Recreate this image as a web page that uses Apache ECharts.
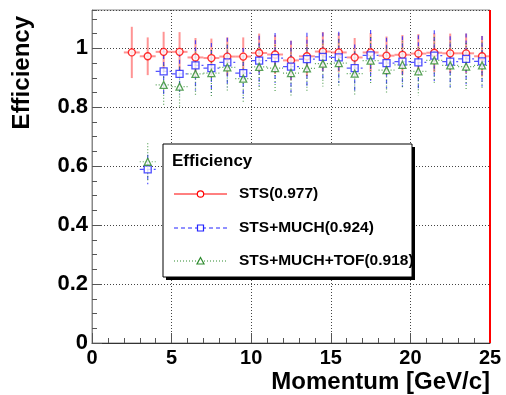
<!DOCTYPE html>
<html>
<head>
<meta charset="utf-8">
<script src="https://cdn.jsdelivr.net/npm/echarts@6/dist/echarts.min.js"></script>
<style>
  html, body { margin: 0; padding: 0; background: #fff; }
  #chart { width: 506px; height: 395px; }
</style>
</head>
<body>
<div id="chart"></div>
<script>
// Bin centres of the momentum histogram [GeV/c]
const stsMomentum = [2.5, 3.5, 4.5, 5.5, 6.5, 7.5, 8.5, 9.5, 10.5, 11.5, 12.5, 13.5,
  14.5, 15.5, 16.5, 17.5, 18.5, 19.5, 20.5, 21.5, 22.5, 23.5, 24.5];
const muchMomentum = [3.5, 4.5, 5.5, 6.5, 7.5, 8.5, 9.5, 10.5, 11.5, 12.5, 13.5,
  14.5, 15.5, 16.5, 17.5, 18.5, 19.5, 20.5, 21.5, 22.5, 23.5, 24.5];

// STS efficiency and its error
const stsEff = [0.986, 0.973, 0.988, 0.988, 0.969, 0.967, 0.972, 0.972, 0.984, 0.979, 0.959, 0.973,
  0.989, 0.986, 0.969, 0.986, 0.975, 0.978, 0.982, 0.985, 0.983, 0.983, 0.973];
const stsErr = [0.087, 0.064, 0.068, 0.067, 0.066, 0.066, 0.065, 0.065, 0.066, 0.066, 0.067, 0.068,
  0.066, 0.066, 0.066, 0.066, 0.065, 0.067, 0.066, 0.066, 0.067, 0.067, 0.069];

// STS+MUCH efficiency and its error
const muchEff = [0.589, 0.922, 0.913, 0.942, 0.933, 0.952, 0.916, 0.958, 0.967, 0.938, 0.963,
  0.971, 0.969, 0.933, 0.976, 0.950, 0.955, 0.952, 0.975, 0.955, 0.964, 0.956];
const muchErr = [0.050, 0.079, 0.072, 0.085, 0.085, 0.084, 0.085, 0.085, 0.085, 0.088, 0.090,
  0.083, 0.087, 0.080, 0.086, 0.086, 0.086, 0.092, 0.086, 0.086, 0.086, 0.086];

// STS+MUCH+TOF efficiency and its error
const tofEff = [0.615, 0.876, 0.870, 0.913, 0.916, 0.935, 0.897, 0.937, 0.933, 0.916, 0.932,
  0.948, 0.950, 0.914, 0.958, 0.926, 0.944, 0.922, 0.959, 0.942, 0.938, 0.942];
const tofErr = [0.063, 0.068, 0.068, 0.075, 0.078, 0.078, 0.078, 0.078, 0.078, 0.080, 0.080,
  0.078, 0.080, 0.075, 0.080, 0.080, 0.080, 0.082, 0.080, 0.080, 0.080, 0.080];

// Legend entries
const legendTitle = 'Efficiency';
const legendLabels = ['STS(0.977)', 'STS+MUCH(0.924)', 'STS+MUCH+TOF(0.918)'];

const xTitle = 'Momentum [GeV/c]';
const yTitle = 'Efficiency';

const RED = '#ff0000';
const BLUE = '#2222ff';
const GREEN = '#2e8b2e';
const FONT = '"Liberation Sans", Arial, Helvetica, sans-serif';

function rows(xs, ys, es) {
  return xs.map((x, i) => [x, ys[i], es[i]]);
}

// Vertical error bar plus a horizontal bar spanning the bin width
function errorBars(color, dash, width) {
  return function (params, api) {
    const x = api.value(0), y = api.value(1), e = api.value(2);
    const c = api.coord([x, y]);
    const hi = api.coord([x, y + e]);
    const lo = api.coord([x, y - e]);
    const l = api.coord([x - 0.5, y]);
    const r = api.coord([x + 0.5, y]);
    const style = { stroke: color, lineWidth: width, lineDash: dash, fill: null };
    return {
      type: 'group',
      children: [
        { type: 'line', shape: { x1: c[0], y1: hi[1], x2: c[0], y2: lo[1] }, style: style },
        { type: 'line', shape: { x1: l[0], y1: c[1], x2: r[0], y2: c[1] }, style: style }
      ]
    };
  };
}

function markerSeries(xs, ys, symbol, size, color) {
  return {
    type: 'scatter',
    data: xs.map((x, i) => [x, ys[i]]),
    symbol: symbol,
    symbolSize: size,
    itemStyle: { color: '#fff', borderColor: color, borderWidth: 1.3 },
    z: 5,
    silent: true
  };
}

function errSeries(xs, ys, es, color, dash, width) {
  return {
    type: 'custom',
    data: rows(xs, ys, es),
    renderItem: errorBars(color, dash, width),
    encode: { x: 0, y: 1 },
    z: 3,
    silent: true
  };
}

const labelStyle = { color: '#000', fontWeight: 'bold', fontFamily: FONT };
const gridLine = { show: true, lineStyle: { color: '#444', type: [1, 2], width: 1 } };

// Legend box drawn as a framed panel with samples of each series
const LZ = 100;
const legX = 163, legY = 144, legW = 249, legH = 133;
const rowY = [194, 228, 261];
const legendChildren = [
  { type: 'rect', z: LZ, shape: { x: legX + 3, y: legY + 3, width: legW, height: legH },
    style: { fill: '#000' } },
  { type: 'rect', z: LZ + 1, shape: { x: legX, y: legY, width: legW, height: legH },
    style: { fill: '#fff', stroke: '#000', lineWidth: 1 } },
  { type: 'text', z: LZ + 2, x: 172, y: 161,
    style: { text: legendTitle, font: 'bold 17px ' + FONT, fill: '#000', verticalAlign: 'middle' } }
];
const legendSpecs = [
  { color: RED, dash: null, marker: 'circle' },
  { color: BLUE, dash: [4, 3], marker: 'square' },
  { color: GREEN, dash: [1, 2], marker: 'triangle' }
];
legendSpecs.forEach((s, i) => {
  const y = rowY[i];
  legendChildren.push({ type: 'line', z: LZ + 2, shape: { x1: 174, y1: y, x2: 227, y2: y },
    style: { stroke: s.color, lineWidth: 1, lineDash: s.dash } });
  if (s.marker === 'circle') {
    legendChildren.push({ type: 'circle', z: LZ + 3, shape: { cx: 200.5, cy: y, r: 3.2 },
      style: { fill: '#fff', stroke: s.color, lineWidth: 1.2 } });
  } else if (s.marker === 'square') {
    legendChildren.push({ type: 'rect', z: LZ + 3, shape: { x: 197.5, y: y - 3, width: 6, height: 6 },
      style: { fill: '#fff', stroke: s.color, lineWidth: 1.2 } });
  } else {
    legendChildren.push({ type: 'polygon', z: LZ + 3, shape: { points: [[200.5, y - 3.5], [204, y + 3], [197, y + 3]] },
      style: { fill: '#fff', stroke: s.color, lineWidth: 1.2 } });
  }
  legendChildren.push({ type: 'text', z: LZ + 2, x: 239, y: y,
    style: { text: legendLabels[i], font: 'bold 15.5px ' + FONT, fill: '#000', verticalAlign: 'middle' } });
});

const chart = echarts.init(document.getElementById('chart'), null, { renderer: 'canvas' });
chart.setOption({
  animation: false,
  backgroundColor: '#fff',
  grid: { left: 92, right: 16, top: 10, bottom: 52, show: true, borderColor: '#888', borderWidth: 1 },
  xAxis: [{
    type: 'value', min: 0, max: 25, interval: 5,
    axisLine: { show: true, onZero: false, lineStyle: { color: '#333', width: 1 } },
    axisTick: { show: true, inside: true, length: 10, lineStyle: { color: '#555' } },
    minorTick: { show: true, splitNumber: 5, length: 5, lineStyle: { color: '#555' } },
    axisLabel: Object.assign({ margin: 5, fontSize: 20 }, labelStyle),
    splitLine: gridLine
  }],
  yAxis: [{
    type: 'value', min: 0, max: 1.13, interval: 0.2, position: 'left',
    axisLine: { show: true, onZero: false, lineStyle: { color: '#888', width: 1 } },
    axisTick: { show: true, inside: true, length: 10, lineStyle: { color: '#555' } },
    axisLabel: Object.assign({
      margin: 4, fontSize: 22, showMaxLabel: false,
      formatter: v => String(Math.round(v * 10) / 10)
    }, labelStyle),
    splitLine: gridLine
  }, {
    // fine ticks every 0.05
    type: 'value', min: 0, max: 1.13, interval: 0.05, position: 'left', offset: 0,
    axisLine: { show: false },
    axisTick: { show: true, inside: true, length: 5, lineStyle: { color: '#555' } },
    axisLabel: { show: false },
    splitLine: { show: false }
  }],
  graphic: {
    elements: [
      { type: 'text', x: 22, y: 16, rotation: Math.PI / 2,
        style: { text: yTitle, font: 'bold 24px ' + FONT, fill: '#000', align: 'right', verticalAlign: 'middle' } },
      { type: 'text', x: 490, y: 382,
        style: { text: xTitle, font: 'bold 24px ' + FONT, fill: '#000', align: 'right', verticalAlign: 'middle' } },
      { type: 'group', z: LZ, children: legendChildren }
    ]
  },
  series: [
    errSeries(stsMomentum, stsEff, stsErr, 'rgba(255,60,60,0.55)', null, 2),
    errSeries(muchMomentum, muchEff, muchErr, 'rgba(40,40,255,0.8)', [4, 3], 1.2),
    errSeries(muchMomentum, tofEff, tofErr, 'rgba(46,139,46,0.8)', [1, 2], 1.2),
    markerSeries(stsMomentum, stsEff, 'circle', 7, RED),
    markerSeries(muchMomentum, muchEff, 'rect', 7, BLUE),
    markerSeries(muchMomentum, tofEff, 'triangle', 7, GREEN),
    {
      type: 'scatter', data: [], silent: true,
      markLine: {
        silent: true, symbol: 'none', label: { show: false },
        lineStyle: { color: RED, width: 2, type: 'solid' },
        data: [{ xAxis: 25 }]
      }
    }
  ]
});
</script>
</body>
</html>
